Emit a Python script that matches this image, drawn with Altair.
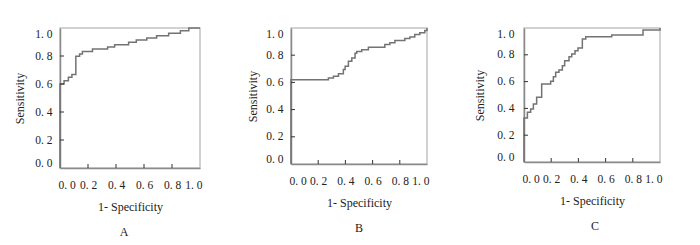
import altair as alt
import pandas as pd

# Panel A ROC curve (1-specificity, sensitivity)
a_x = [0.0, 0.0, 0.029, 0.06, 0.085, 0.113, 0.14, 0.16, 0.232, 0.34, 0.39, 0.49, 0.545, 0.62, 0.69, 0.776, 0.86, 0.92, 1.0]
a_y = [0.0, 0.6, 0.624, 0.648, 0.667, 0.798, 0.814, 0.833, 0.85, 0.865, 0.88, 0.898, 0.914, 0.928, 0.945, 0.962, 0.98, 1.0, 1.0]

# Panel B
b_x = [0.0, 0.0, 0.275, 0.312, 0.349, 0.385, 0.398, 0.422, 0.447, 0.471, 0.483, 0.52, 0.569, 0.69, 0.727, 0.764, 0.837, 0.874, 0.91, 0.947, 0.984, 1.0]
b_y = [0.0, 0.62, 0.632, 0.645, 0.664, 0.694, 0.718, 0.755, 0.779, 0.815, 0.828, 0.84, 0.859, 0.879, 0.891, 0.908, 0.923, 0.933, 0.952, 0.965, 0.982, 1.0]

# Panel C
c_x = [0.0, 0.0, 0.025, 0.049, 0.069, 0.093, 0.13, 0.196, 0.216, 0.233, 0.257, 0.282, 0.299, 0.331, 0.351, 0.375, 0.397, 0.429, 0.454, 0.645, 0.875, 1.0]
c_y = [0.0, 0.328, 0.371, 0.396, 0.433, 0.483, 0.582, 0.602, 0.637, 0.669, 0.687, 0.719, 0.756, 0.786, 0.806, 0.831, 0.851, 0.918, 0.935, 0.948, 0.985, 1.0]

axis_values = [0.0, 0.2, 0.4, 0.6, 0.8, 1.0]
tick_values = [0.2, 0.4, 0.6, 0.8]
letters = ["A", "B", "C"]

FONT = "Liberation Serif"
LABEL_EXPR = ("substring(format(datum.value, '.1f'), 0, 2) + '\u00a0' + "
              "substring(format(datum.value, '.1f'), 2, 3)")


def panel(xs, ys, letter, w, h, ylab_pad, ytitle_pad, title_dx):
    df = pd.DataFrame({"fpr": xs, "tpr": ys})
    tk = pd.DataFrame({"fpr": tick_values, "tpr": tick_values})
    xsc = alt.Scale(domain=[0, 1], nice=False, zero=False)
    ysc = alt.Scale(domain=[0, 1], nice=False, zero=False)
    xaxis = alt.Axis(
        title="1- Specificity", values=axis_values, labelExpr=LABEL_EXPR,
        labelFlush=True, labelFlushOffset=2, ticks=False, grid=False,
        labelPadding=11, titlePadding=11, domainColor="#8a8a8a", domainWidth=1.5,
        labelFont=FONT, titleFont=FONT, labelFontSize=11.5, titleFontSize=12,
        titleFontWeight="normal", labelColor="#222222", titleColor="#222222",
    )
    yaxis = alt.Axis(
        title="Sensitivity", values=axis_values, labelExpr=LABEL_EXPR,
        labelFlush=True, ticks=False, grid=False,
        labelPadding=ylab_pad, titlePadding=ytitle_pad,
        domainColor="#8a8a8a", domainWidth=1.5,
        labelFont=FONT, titleFont=FONT, labelFontSize=11.5, titleFontSize=12,
        titleFontWeight="normal", labelColor="#222222", titleColor="#222222",
    )
    line = alt.Chart(df).mark_line(
        interpolate="step-after", color="#737373", strokeWidth=1.5
    ).encode(
        x=alt.X("fpr:Q", scale=xsc, axis=xaxis),
        y=alt.Y("tpr:Q", scale=ysc, axis=yaxis),
    )
    ytick = alt.Chart(tk).mark_rule(color="#333333", strokeWidth=1).encode(
        y=alt.Y("tpr:Q", scale=ysc, axis=yaxis),
        x=alt.value(0), x2=alt.value(4),
    )
    xtick = alt.Chart(tk).mark_rule(color="#333333", strokeWidth=1).encode(
        x=alt.X("fpr:Q", scale=xsc, axis=xaxis),
        y=alt.value(h), y2=alt.value(h - 4),
    )
    return alt.layer(line, ytick, xtick).properties(
        width=w, height=h,
        title=alt.TitleParams(letter, orient="bottom", font=FONT, fontSize=12,
                              fontWeight="normal", color="#222222", offset=14,
                              dx=title_dx),
    )


chart = alt.hconcat(
    panel(a_x, a_y, letters[0], 140, 140, 8, 8, -6),
    panel(b_x, b_y, letters[1], 136, 136, 8, 6, 0),
    panel(c_x, c_y, letters[2], 136, 134, 10, 10, 3),
    spacing=42,
).properties(
    padding={"left": 5, "top": 16, "right": 0, "bottom": 0},
    background="white",
).configure_view(
    stroke="#c4c4c4", strokeWidth=1.5
)

chart.save("out.html", embed_options={"renderer": "svg", "actions": False})
